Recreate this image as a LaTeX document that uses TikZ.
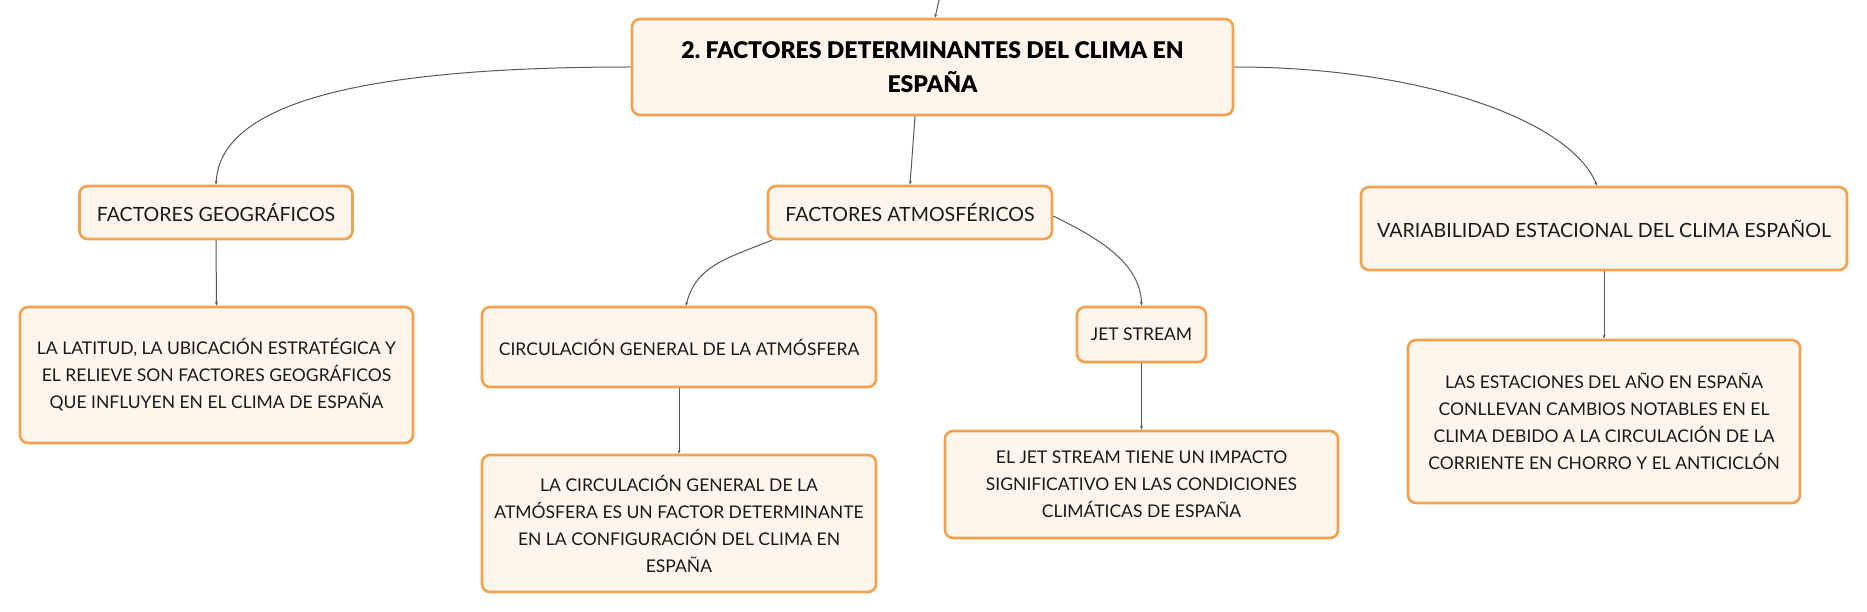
\documentclass[tikz,border=0pt]{standalone}
\usepackage{fontspec}
\setmainfont{Lato}
\newfontfamily\headfont{Lato}[UprightFont={* Black}]
\usetikzlibrary{arrows.meta}
\definecolor{boxline}{HTML}{F2A24E}
\definecolor{boxfill}{HTML}{FEF6EC}
\definecolor{linkcol}{HTML}{5A5A5A}
\tikzset{
  box/.style={draw=boxline, fill=boxfill, line width=2.6pt, rounded corners=8pt,
    align=center, inner sep=0pt, text=black!90, font=\fontsize{17.5}{27}\selectfont},
  topicbox/.style={box, font=\fontsize{19.6}{27}\selectfont},
  headbox/.style={box, text=black, font=\fontsize{23}{34.5}\selectfont\headfont},
  link/.style={draw=linkcol, line width=1pt, -{Stealth[length=4pt,width=3pt]}}
}
\begin{document}
\begin{tikzpicture}[x=1pt,y=-1pt]
     \fill[white] (0,0) rectangle (1867,612);
     \useasboundingbox (0,0) rectangle (1867,612);
     \coordinate (top) at (939,0);
     \node[headbox, minimum width=601, minimum height=96] (main) at (932.5,67) {2.\ FACTORES DETERMINANTES DEL CLIMA EN\\ESPAÑA};
     \node[topicbox, minimum width=273, minimum height=53] (fg) at (216,212.5) {FACTORES GEOGRÁFICOS};
     \node[box, minimum width=393, minimum height=136] (lat) at (216.5,375) {LA LATITUD, LA UBICACIÓN ESTRATÉGICA Y\\EL RELIEVE SON FACTORES GEOGRÁFICOS\\QUE INFLUYEN EN EL CLIMA DE ESPAÑA};
     \node[topicbox, minimum width=284, minimum height=53] (fa) at (910,212.5) {FACTORES ATMOSFÉRICOS};
     \node[box, minimum width=394, minimum height=80] (circ) at (679,347) {CIRCULACIÓN GENERAL DE LA ATMÓSFERA};
     \node[box, minimum width=394, minimum height=137] (circd) at (679,523.5) {LA CIRCULACIÓN GENERAL DE LA\\ATMÓSFERA ES UN FACTOR DETERMINANTE\\EN LA CONFIGURACIÓN DEL CLIMA EN\\ESPAÑA};
     \node[box, minimum width=129, minimum height=55] (js) at (1141.5,334.5) {JET STREAM};
     \node[box, minimum width=393, minimum height=107] (jsd) at (1141.5,484.5) {EL JET STREAM TIENE UN IMPACTO\\SIGNIFICATIVO EN LAS CONDICIONES\\CLIMÁTICAS DE ESPAÑA};
     \node[topicbox, minimum width=486, minimum height=83] (var) at (1604,228.5) {VARIABILIDAD ESTACIONAL DEL CLIMA ESPAÑOL};
     \node[box, minimum width=392, minimum height=163] (est) at (1604,421.5) {LAS ESTACIONES DEL AÑO EN ESPAÑA\\CONLLEVAN CAMBIOS NOTABLES EN EL\\CLIMA DEBIDO A LA CIRCULACIÓN DE LA\\CORRIENTE EN CHORRO Y EL ANTICICLÓN};
     \draw[link] (top) -- ([xshift=2.5pt]main.north);
     \draw[link] (main.west) .. controls +(-272,0) and +(4,-81) .. (fg.north);
     \draw[link] ([xshift=-17.5pt]main.south) -- (fa.north);
     \draw[link] (main.east) .. controls +(186,0) and +(-27,-66) .. ([xshift=-7pt]var.north);
     \draw[link] (fg.south) -- (lat.north);
     \draw[link] ([xshift=5pt]fa.south west) .. controls +(-45,18) and +(10,-40) .. ([xshift=7pt]circ.north);
     \draw[link] ([yshift=-3.5pt]fa.east) .. controls +(40,20) and +(-1,-45) .. (js.north);
     \draw[link] (circ.south) -- (circd.north);
     \draw[link] (js.south) -- (jsd.north);
     \draw[link] (var.south) -- (est.north);
\end{tikzpicture}
\end{document}
